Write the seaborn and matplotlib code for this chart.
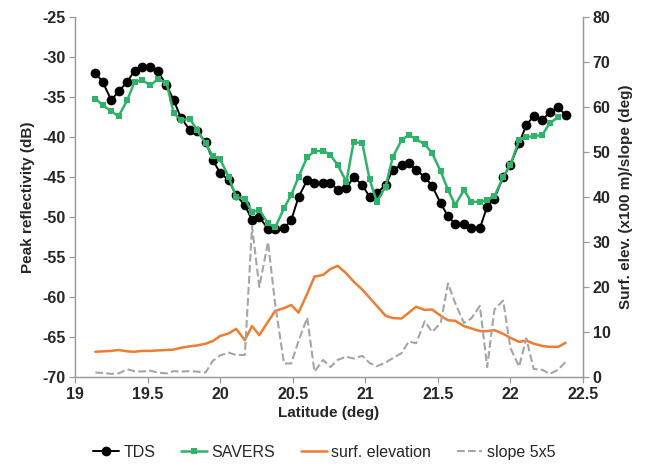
import numpy as np
import pandas as pd
import seaborn as sns
import matplotlib.pyplot as plt
from matplotlib.ticker import FormatStrFormatter

# Latitude (deg) of each sample
latitude = [19.14, 19.19, 19.25, 19.30, 19.36, 19.41, 19.46, 19.52, 19.57, 19.63,
            19.68, 19.73, 19.79, 19.84, 19.90, 19.95, 20.00, 20.06, 20.11, 20.17,
            20.22, 20.27, 20.33, 20.38, 20.44, 20.49, 20.54, 20.60, 20.65, 20.71,
            20.76, 20.81, 20.87, 20.92, 20.98, 21.03, 21.08, 21.14, 21.19, 21.25,
            21.30, 21.35, 21.41, 21.46, 21.52, 21.57, 21.62, 21.68, 21.73, 21.79,
            21.84, 21.89, 21.95, 22.00, 22.06, 22.11, 22.16, 22.22, 22.27, 22.33,
            22.38]

# Peak reflectivity (dB)
tds = [-32.0, -33.1, -35.4, -34.3, -33.1, -31.7, -31.2, -31.3, -31.8, -33.5,
       -35.4, -37.6, -39.1, -39.3, -40.6, -42.9, -44.5, -45.4, -47.3, -48.5,
       -50.4, -50.0, -51.5, -51.5, -51.4, -50.4, -47.5, -45.4, -45.8, -45.8,
       -45.7, -46.6, -46.4, -45.0, -46.0, -47.5, -47.0, -46.0, -44.1, -43.5,
       -43.3, -44.1, -45.0, -46.1, -48.3, -49.9, -50.9, -50.9, -51.4, -51.4,
       -48.7, -47.7, -45.0, -43.5, -40.8, -38.5, -37.4, -37.9, -36.9, -36.3,
       -37.25]

savers = [-35.2, -36.0, -36.8, -37.4, -35.4, -33.1, -32.9, -33.5, -32.8, -33.2,
          -37.0, -37.9, -37.7, -39.1, -40.8, -42.4, -42.8, -45.0, -47.5, -47.7,
          -49.4, -49.1, -50.8, -51.3, -48.9, -47.25, -45.0, -42.5, -41.8, -41.7,
          -42.25, -43.5, -45.6, -40.6, -40.8, -45.3, -48.1, -46.2, -42.5, -40.4,
          -39.7, -40.3, -40.9, -42.0, -44.3, -46.6, -48.5, -46.6, -48.1, -48.1,
          -47.9, -47.4, -45.0, -43.5, -40.4, -40.0, -39.9, -39.75, -38.3, -37.5,
          np.nan]

# Surface elevation (x100 m) and slope (deg)
elevation = [5.6, 5.7, 5.8, 6.0, 5.7, 5.6, 5.8, 5.8, 5.9, 6.0,
             6.1, 6.5, 6.8, 7.0, 7.4, 8.0, 9.1, 9.7, 10.7, 8.2,
             11.3, 9.3, 12.3, 14.7, 15.3, 16.0, 14.3, 18.5, 22.3, 22.7,
             24.0, 24.7, 23.0, 21.2, 19.4, 17.6, 15.8, 13.6, 13.1, 13.0,
             14.3, 15.6, 14.9, 15.0, 13.6, 12.6, 12.5, 11.3, 10.8, 10.2,
             10.2, 10.4, 9.6, 8.7, 7.8, 8.1, 7.4, 6.9, 6.7, 6.7,
             7.6]

slope = [1.0, 0.9, 0.7, 0.8, 1.7, 1.3, 1.2, 1.4, 1.0, 0.8,
         1.3, 1.2, 1.3, 1.2, 1.0, 3.6, 4.8, 5.4, 4.9, 4.9,
         33.4, 20.0, 30.0, 16.0, 3.0, 3.0, 8.0, 13.2, 1.2, 3.8,
         2.2, 3.8, 4.5, 4.1, 4.7, 3.1, 2.4, 3.2, 4.2, 5.3,
         7.9, 7.5, 12.4, 10.0, 12.0, 20.8, 16.4, 12.0, 13.0, 15.8,
         2.2, 15.0, 17.0, 6.5, 2.3, 8.6, 1.8, 1.6, 0.7, 1.6,
         3.4]

dados = pd.DataFrame({'lat': latitude, 'tds': tds, 'savers': savers,
                      'elev': elevation, 'slope': slope})

sns.set_style("white")
plt.rcParams['font.family'] = ['Liberation Sans', 'DejaVu Sans']
plt.rcParams['axes.unicode_minus'] = False

fig = plt.figure(figsize=(6.49, 4.66), dpi=100)
ax = fig.add_axes([0.1156, 0.191, 0.7826, 0.7725])
ax2 = ax.twinx()

verde = '#2fb36a'
laranja = '#ed7d31'
cinza = '#a5a5a5'

# Refletividade (eixo esquerdo)
sns.lineplot(data=dados, x='lat', y='tds', ax=ax, color='black', marker='o',
             markersize=7, linewidth=1.4, markeredgewidth=0, label='TDS', legend=False)
sns.lineplot(data=dados, x='lat', y='savers', ax=ax, color=verde, marker='s',
             markersize=5, linewidth=1.8, markeredgewidth=0, label='SAVERS', legend=False)

# Elevacao e declive (eixo direito)
sns.lineplot(data=dados, x='lat', y='elev', ax=ax2, color=laranja, linewidth=1.8,
             label='surf. elevation', legend=False)
sns.lineplot(data=dados, x='lat', y='slope', ax=ax2, color=cinza, linewidth=1.5,
             linestyle='--', label='slope 5x5', legend=False)

ax.set_xlim(19, 22.5)
ax.set_ylim(-70, -25)
ax2.set_ylim(0, 80)
ax.set_xticks(np.arange(19, 22.51, 0.5))
ax.set_yticks(np.arange(-70, -24, 5))
ax2.set_yticks(np.arange(0, 81, 10))
ax.xaxis.set_major_formatter(FormatStrFormatter('%g'))

ax.set_xlabel('Latitude (deg)', fontsize=11, fontweight='bold', labelpad=3)
ax.set_ylabel('Peak reflectivity (dB)', fontsize=11, fontweight='bold', labelpad=5)
ax2.set_ylabel('Surf. elev. (x100 m)/slope (deg)', fontsize=11, fontweight='bold', labelpad=6)

for eixo in (ax, ax2):
    for s in eixo.spines.values():
        s.set_color('#9a9a9a')
        s.set_linewidth(0.9)
    eixo.spines['top'].set_visible(False)
    eixo.tick_params(direction='out', length=4, width=0.9, color='#9a9a9a',
                     labelsize=11.5, pad=3)
    for t in eixo.get_xticklabels() + eixo.get_yticklabels():
        t.set_fontweight('bold')
ax.tick_params(axis='x', bottom=True)
ax.tick_params(axis='y', left=True)
ax2.tick_params(axis='y', right=True)
ax.grid(False)
ax2.grid(False)

h1, l1 = ax.get_legend_handles_labels()
h2, l2 = ax2.get_legend_handles_labels()
fig.legend(h1 + h2, l1 + l2, loc='center', bbox_to_anchor=(0.5, 0.03), ncol=4,
           frameon=False, fontsize=11.5, handlelength=1.6, handletextpad=0.3,
           columnspacing=1.6)

fig.savefig('out.png', dpi=100)
